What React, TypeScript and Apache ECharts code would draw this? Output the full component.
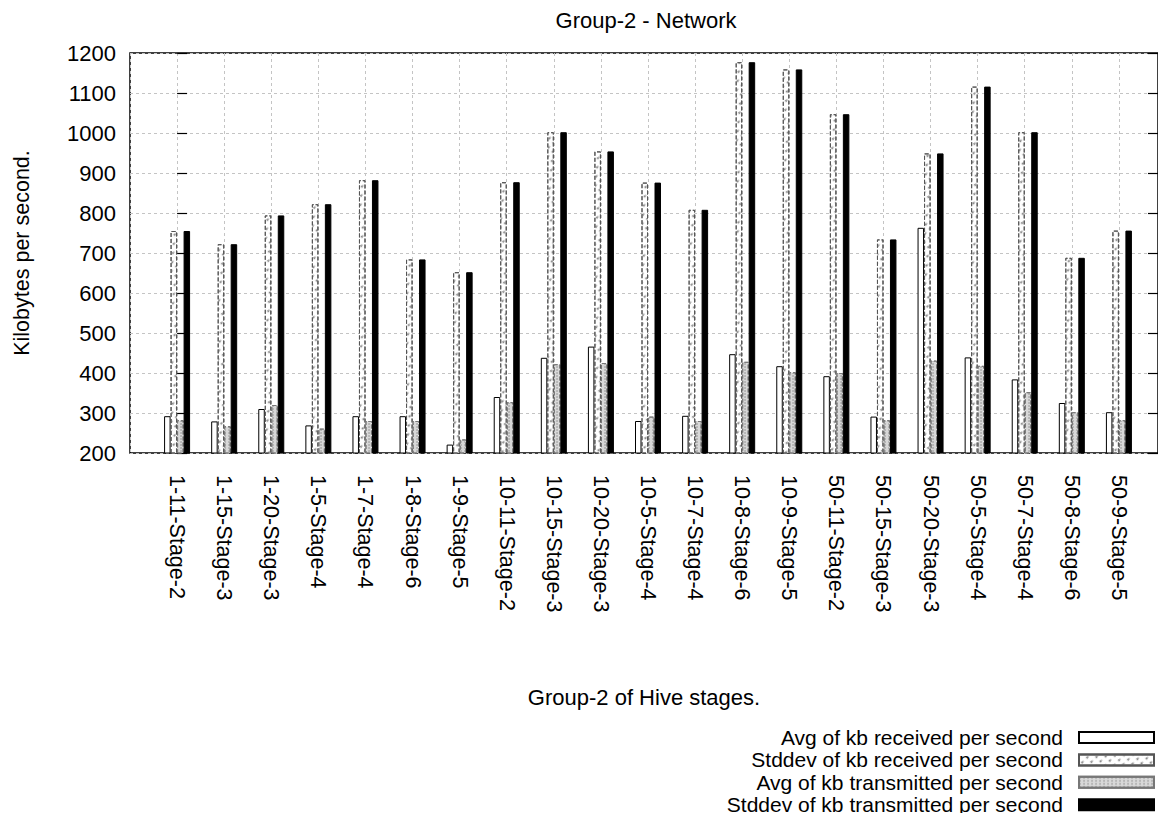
import React, { useEffect, useRef } from "react";
import * as echarts from "echarts";

const categories = [
  "1-11-Stage-2", "1-15-Stage-3", "1-20-Stage-3", "1-5-Stage-4", "1-7-Stage-4",
  "1-8-Stage-6", "1-9-Stage-5", "10-11-Stage-2", "10-15-Stage-3", "10-20-Stage-3",
  "10-5-Stage-4", "10-7-Stage-4", "10-8-Stage-6", "10-9-Stage-5", "50-11-Stage-2",
  "50-15-Stage-3", "50-20-Stage-3", "50-5-Stage-4", "50-7-Stage-4", "50-8-Stage-6",
  "50-9-Stage-5",
];

const avgReceived = [292, 279, 310, 269, 292, 292, 221, 340, 438, 466, 280, 293, 447, 417, 392, 291, 763, 439, 384, 325, 302];
const stddevReceived = [755, 722, 794, 822, 882, 684, 652, 877, 1002, 954, 876, 808, 1177, 1159, 1047, 734, 949, 1116, 1002, 688, 756];
const avgTransmitted = [282, 267, 320, 261, 280, 280, 234, 327, 422, 425, 291, 280, 428, 402, 400, 282, 431, 418, 352, 302, 282];
const stddevTransmitted = [755, 722, 794, 822, 882, 684, 652, 877, 1002, 954, 876, 808, 1177, 1159, 1047, 734, 949, 1116, 1002, 688, 756];

const seriesNames = [
  "Avg of kb received per second",
  "Stddev of kb received per second",
  "Avg of kb transmitted per second",
  "Stddev of kb transmitted per second",
];

const yTicks = { min: 200, max: 1200, interval: 100 };

const FONT = "'Liberation Sans', Arial, Helvetica, sans-serif";

export default function App() {
  const ref = useRef<HTMLDivElement>(null);

  useEffect(() => {
    if (!ref.current) return;
    const chart = echarts.init(ref.current, undefined, { renderer: "svg" });

    const toPairs = (arr: number[]) => arr.map((v, i) => [i, v]);
    const gridLine = { show: true, lineStyle: { color: "#c4c4c4", type: [3, 3], width: 1 } };

    const styles = [
      { color: "#ffffff", borderColor: "#000000", borderWidth: 1 },
      {
        color: "#ffffff",
        borderColor: "#555555",
        borderWidth: 1,
        borderType: "dashed",
        decal: { symbol: "triangle", symbolSize: 0.7, color: "#8a8a8a", backgroundColor: "#ffffff", dashArrayX: [4, 2], dashArrayY: [5, 2], rotation: 0.8 },
      },
      {
        color: "#d8d8d8",
        borderColor: "#777777",
        borderWidth: 1,
        borderType: "dashed",
        decal: { symbol: "circle", symbolSize: 0.6, color: "#777777", backgroundColor: "#e6e6e6", dashArrayX: [2, 2], dashArrayY: [2, 1] },
      },
      { color: "#000000", borderColor: "#000000", borderWidth: 1 },
    ];
    const dataSets = [avgReceived, stddevReceived, avgTransmitted, stddevTransmitted];

    const option: any = {
      animation: false,
      textStyle: { fontFamily: FONT },
      graphic: [
        {
          type: "text",
          x: 646,
          y: 20,
          style: { text: "Group-2 - Network", fontSize: 22, fontFamily: FONT, fill: "#000", align: "center", verticalAlign: "middle" },
        },
      ],
      grid: {
        left: 130, right: 8, top: 53, bottom: 368,
        show: true, borderColor: "#000", borderWidth: 1.5, backgroundColor: "transparent",
      },
      xAxis: {
        type: "value",
        min: -1,
        max: 20.83,
        interval: 1,
        axisLine: { show: false },
        axisTick: { show: false },
        splitLine: gridLine,
        axisLabel: {
          rotate: -90,
          margin: 22,
          fontSize: 21.5,
          color: "#000",
          fontFamily: FONT,
          formatter: (v: number) => (Number.isInteger(v) && v >= 0 && v < categories.length ? categories[v] : ""),
        },
        name: "Group-2 of Hive stages.",
        nameLocation: "middle",
        nameGap: 233,
        nameTextStyle: { fontSize: 22, color: "#000", fontFamily: FONT },
      },
      yAxis: [
        {
          type: "value",
          ...yTicks,
          axisLine: { show: false },
          axisTick: { show: true, inside: true, length: 10, lineStyle: { color: "#000", width: 1.2 } },
          splitLine: gridLine,
          axisLabel: { margin: 14, fontSize: 22, color: "#000", fontFamily: FONT, formatter: (v: number) => String(v) },
          name: "Kilobytes per second.",
          nameLocation: "middle",
          nameGap: 97,
          nameRotate: 90,
          nameTextStyle: { fontSize: 21.5, color: "#000", fontFamily: FONT },
        },
        {
          type: "value",
          position: "right",
          ...yTicks,
          axisLine: { show: false },
          axisTick: { show: true, inside: true, length: 10, lineStyle: { color: "#000", width: 1.2 } },
          splitLine: { show: false },
          axisLabel: { show: false },
        },
      ],
      legend: seriesNames.map((n, i) => ({
        data: [n],
        orient: "horizontal",
        align: "right",
        right: 6,
        top: 722 + i * 22.4,
        itemWidth: 75,
        itemHeight: 11,
        itemGap: 0,
        icon: "rect",
        selectedMode: false,
        textStyle: { fontSize: 21, lineHeight: 20, color: "#000", fontFamily: FONT, padding: [0, 11, 0, 0] },
      })),
      series: seriesNames.map((n, i) => ({
        name: n,
        type: "bar",
        data: toPairs(dataSets[i]),
        barWidth: 6.5,
        barGap: "0%",
        clip: true,
        itemStyle: styles[i],
      })),
    };

    chart.setOption(option);
    return () => chart.dispose();
  }, []);

  return <div ref={ref} style={{ width: 1166, height: 821, margin: -8 }} />;
}
